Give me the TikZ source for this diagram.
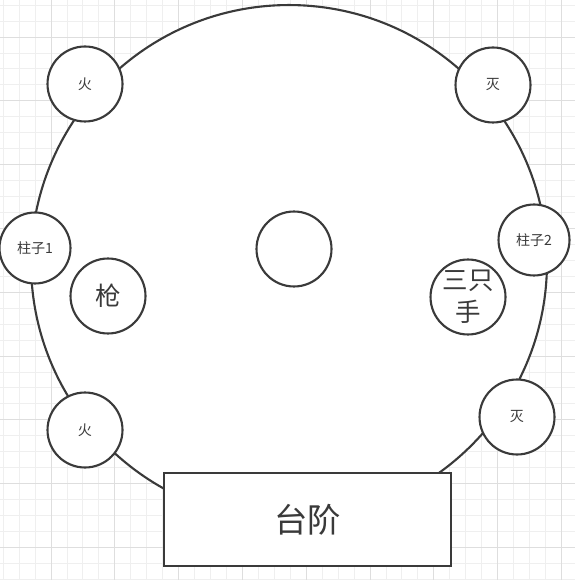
\documentclass[tikz,border=0pt]{standalone}
\usepackage{fontspec}
\setmainfont{Noto Sans CJK SC}
\definecolor{inkgray}{HTML}{3A3A3A}
\definecolor{gridminor}{HTML}{EFEFEF}
\definecolor{gridmajor}{HTML}{DEDEDE}

\begin{document}
\begin{tikzpicture}[x=0.02cm, y=-0.02cm,
  spot/.style={draw=inkgray, fill=white, line width=1.2pt, circle, minimum size=1.5cm, inner sep=0pt, text=inkgray},
  tiny/.style={font=\fontsize{8}{9}\selectfont},
  big/.style={font=\fontsize{14.5}{18}\selectfont, align=center}]
  \useasboundingbox (0,0) rectangle (575,580);
  \fill [white] (0,0) rectangle (575,580);
  \clip (0,0) rectangle (575,580);
  \foreach \k in {-4,...,33}
    \draw [gridminor, line width=0.5pt] (51+15.95*\k,0) -- ++(0,580);
  \foreach \k in {-3,...,34}
    \draw [gridminor, line width=0.5pt] (0,37+15.95*\k) -- ++(575,0);
  \foreach \k in {-1,...,8}
    \draw [gridmajor, line width=0.5pt] (51+63.8*\k,0) -- ++(0,580);
  \foreach \k in {-1,...,9}
    \draw [gridmajor, line width=0.5pt] (0,37+63.8*\k) -- ++(575,0);

  \node [draw=inkgray, fill=white, line width=1.2pt, circle, minimum size=10.32cm, inner sep=0pt] (ring) at (289,263) {};

  \node [spot, tiny] (fire1) at (85,84) {火};
  \node [spot, tiny] (out1) at (493,85) {灭};
  \node [spot, tiny, minimum size=1.42cm] (post1) at (35,248) {柱子1};
  \node [spot, big] (gun) at (108,296) {枪};
  \node [spot, tiny, minimum size=1.42cm] (post2) at (534,240) {柱子2};
  \node [spot, big] (hands) at (468,297) {三只\\手};
  \node [spot, tiny] (fire2) at (85,430) {火};
  \node [spot, tiny] (out2) at (517,417) {灭};
  \node [spot] (core) at (294,249) {};
  \node [draw=inkgray, fill=white, line width=1.2pt, rectangle, minimum width=5.74cm, minimum height=1.86cm, text=inkgray, font=\fontsize{19}{22}\selectfont] (steps) at (307.5,519.5) {台阶};
\end{tikzpicture}
\end{document}
